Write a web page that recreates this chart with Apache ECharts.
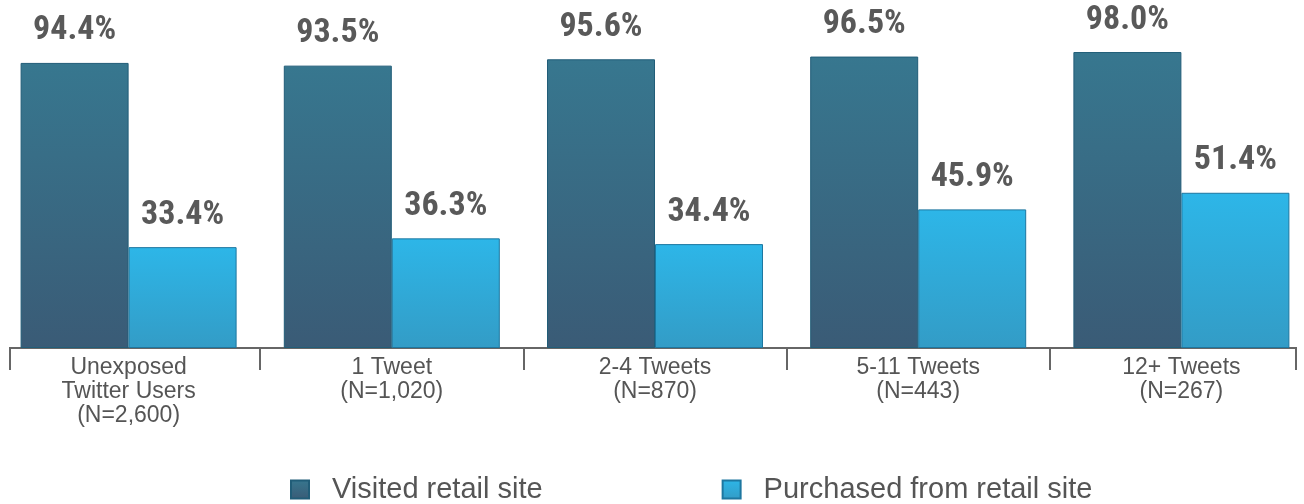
<!DOCTYPE html>
<html><head><meta charset="utf-8">
<script src="https://cdn.jsdelivr.net/npm/echarts@6/dist/echarts.min.js"></script>
<style>html,body{margin:0;padding:0;background:#fff}#c{width:1304px;height:504px}</style>
</head><body><div id="c"></div>
<script>
const categories = ['Unexposed\nTwitter Users\n(N=2,600)', '1 Tweet\n(N=1,020)', '2-4 Tweets\n(N=870)', '5-11 Tweets\n(N=443)', '12+ Tweets\n(N=267)'];
const seriesNames = ['Visited retail site', 'Purchased from retail site'];
const visited = [94.4, 93.5, 95.6, 96.5, 98.0];
const purchased = [33.4, 36.3, 34.4, 45.9, 51.4];

const chart = echarts.init(document.getElementById('c'), null, {renderer: 'canvas'});
const lbl = {
  show: true, position: 'top', distance: 15,
  fontFamily: 'Liberation Sans Narrow, Roboto Condensed, Liberation Sans, sans-serif',
  fontWeight: 'bold', fontSize: 34, color: '#595959',
  formatter: p => p.value.toFixed(1) + '%'
};
const grad = (a, b) => new echarts.graphic.LinearGradient(0, 0, 0, 1, [{offset: 0, color: a}, {offset: 1, color: b}]);
chart.setOption({
  animation: false,
  grid: {left: -3, right: -9, top: 46, bottom: 156, containLabel: false, outerBoundsMode: 'none'},
  xAxis: {
    type: 'category', data: categories,
    axisLine: {show: false},
    axisTick: {show: true, length: 22, lineStyle: {color: '#666', width: 2}},
    axisLabel: {
      interval: 0, margin: 8, color: '#555', fontSize: 23, lineHeight: 24,
      fontFamily: 'Liberation Sans, Helvetica, Arial, sans-serif', fontWeight: 'normal'
    }
  },
  yAxis: {type: 'value', min: 0, max: 100, show: false},
  legend: {
    top: 470, left: 285, itemGap: 179, itemWidth: 18, itemHeight: 18,
    icon: 'rect',
    textStyle: {fontSize: 29, color: '#555', fontFamily: 'Liberation Sans, Helvetica, Arial, sans-serif', padding: [0, 0, 0, 18]},
    data: seriesNames
  },
  series: [
    {name: seriesNames[0], type: 'bar', data: visited, barWidth: 108, barGap: '0%',
     itemStyle: {color: grad('#37778f', '#3a5b76'), borderColor: '#215d78', borderWidth: 1},
     label: lbl},
    {name: seriesNames[1], type: 'bar', data: purchased, barWidth: 108,
     itemStyle: {color: grad('#2db6e8', '#339cc6'), borderColor: '#1d77a0', borderWidth: 1},
     label: lbl}
  ],
  graphic: [
    {type: 'line', shape: {x1: 10, y1: 348, x2: 1296, y2: 348}, style: {stroke: '#666', lineWidth: 2}},
    {type: 'line', shape: {x1: 10, y1: 347, x2: 10, y2: 370}, style: {stroke: '#666', lineWidth: 2}},
    {type: 'line', shape: {x1: 1296, y1: 347, x2: 1296, y2: 370}, style: {stroke: '#666', lineWidth: 2}}
  ]
});
</script></body></html>
